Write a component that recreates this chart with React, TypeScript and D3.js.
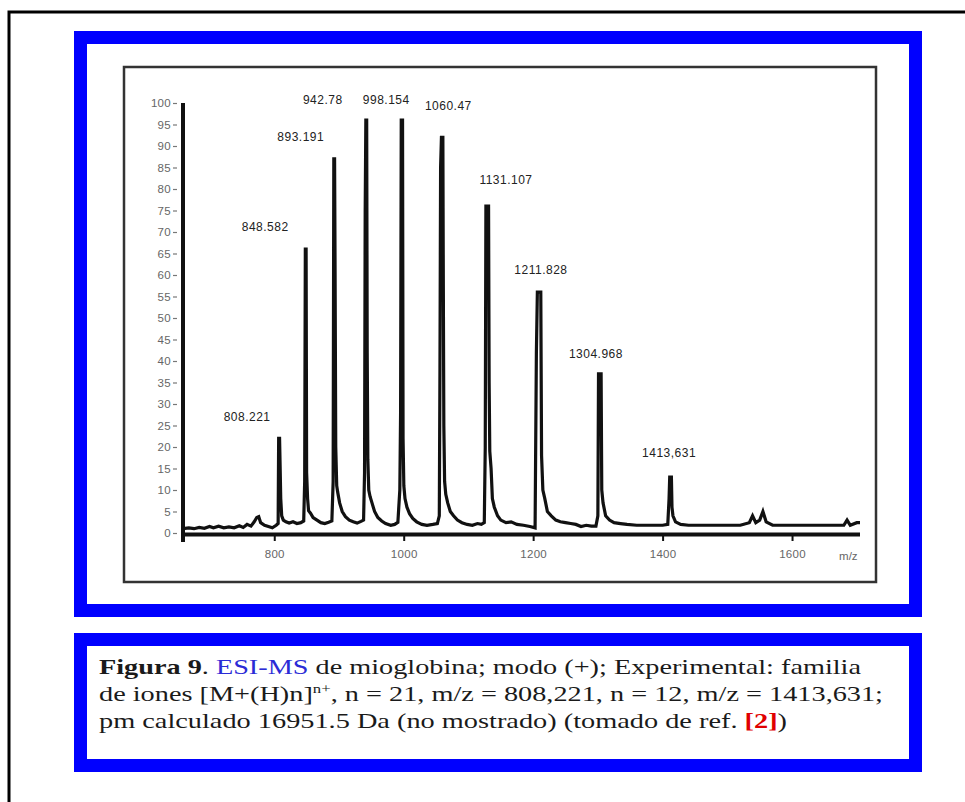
import React, { useEffect, useRef } from "react";
import * as d3 from "d3";

// ESI-MS spectrum of myoglobin: [m/z, relative intensity]
const spectrum: [number, number][] = [
  [659, 1.0], [668, 1.2], [676, 1.0], [684, 1.3], [692, 1.1], [700, 1.5], [706, 1.2],
  [714, 1.6], [722, 1.2], [730, 1.4], [738, 1.2], [746, 1.7], [752, 1.3], [758, 2.0],
  [764, 1.6], [769, 2.6], [773, 3.6], [776, 3.8], [779, 2.4], [785, 1.8], [791, 1.5],
  [797, 1.2], [803, 1.8], [806, 2.2], [806.8, 22], [808.2, 22], [809, 16], [810, 8],
  [811.5, 4], [814, 3], [818, 2.6], [823, 2.3], [829, 2.6], [835, 2.2], [841, 2.4],
  [845.5, 2.8], [847, 12], [848, 66], [849.2, 66], [850, 14], [851.5, 8], [853, 5.2],
  [856, 4.6], [860, 3.6], [866, 3.0], [872, 2.4], [878, 2.2], [884, 2.5], [889, 2.8],
  [891, 12], [892, 87], [893.2, 87], [894, 60], [895, 20], [896.5, 11], [898, 9.5],
  [901, 7], [905, 5], [910, 3.8], [916, 3.0], [922, 2.6], [928, 2.3], [934, 2.7],
  [938, 3.0], [939.5, 14], [940.5, 75], [941.5, 96], [942.8, 96], [943.6, 42],
  [944.6, 17], [946, 10], [948, 8.5], [951, 7], [955, 5], [960, 3.6], [966, 2.8],
  [972, 2.2], [980, 1.8], [986, 2.0], [991, 2.5], [994, 10], [995.2, 28], [996.2, 96],
  [998.2, 96], [999, 22], [1000.2, 11], [1002, 8], [1005, 6], [1009, 4.5], [1014, 3.4],
  [1020, 2.6], [1028, 2.0], [1036, 1.8], [1045, 2.0], [1052, 2.2], [1055, 4],
  [1056, 38], [1057, 85], [1058.3, 92], [1060.5, 92], [1061.2, 58], [1062, 25],
  [1063.2, 12], [1065, 9], [1068, 7], [1072, 5], [1077, 4], [1083, 3], [1090, 2.4],
  [1098, 2.0], [1106, 1.8], [1114, 2.2], [1120, 2.0], [1124.5, 2.4], [1126, 20],
  [1127, 76], [1131.1, 76], [1132, 35], [1133, 19], [1135, 15], [1137, 8], [1140, 6],
  [1145, 4], [1150, 3], [1158, 2.4], [1166, 2.6], [1175, 2.0], [1185, 1.8],
  [1195, 1.5], [1203, 1.2], [1205, 42], [1206.5, 56], [1211.8, 56], [1213, 18],
  [1215, 10], [1218, 8], [1222, 5], [1228, 4], [1235, 3], [1242, 2.6], [1250, 2.4],
  [1258, 2.2], [1266, 2.0], [1274, 1.5], [1282, 1.8], [1290, 1.6], [1297, 1.6],
  [1300, 4], [1301, 37], [1305, 37], [1306, 10], [1308, 7], [1312, 4], [1318, 3],
  [1325, 2.4], [1335, 2.2], [1345, 2.0], [1360, 1.8], [1380, 1.8], [1400, 1.8],
  [1408, 2.0], [1410, 8], [1411, 13], [1413.6, 13], [1414.5, 6], [1416, 4],
  [1420, 2.6], [1428, 2.0], [1440, 1.8], [1460, 1.8], [1480, 1.8], [1500, 1.8],
  [1520, 1.8], [1534, 2.4], [1539, 4], [1544, 2.4], [1550, 3], [1555, 5], [1560, 2.6],
  [1570, 1.8], [1600, 1.8], [1640, 1.8], [1680, 1.8], [1685, 3], [1690, 1.8],
  [1700, 2.4], [1705, 2.4],
];

// peak annotations
const peakLabels = ["808.221", "848.582", "893.191", "942.78", "998.154", "1060.47", "1131.107", "1211.828", "1304.968", "1413,631"];
const labelMz = [758, 786, 841, 875, 973, 1069, 1158, 1212, 1297, 1410];
const labelLevel = [26.7, 71, 92, 100.5, 100.5, 99, 82, 61, 41.5, 18.5];

const xTicks = [800, 1000, 1200, 1400, 1600];
const yTicks = [0, 5, 10, 15, 20, 25, 30, 35, 40, 45, 50, 55, 60, 65, 70, 75, 80, 85, 90, 95, 100];

const App = () => {
  const ref = useRef<SVGSVGElement>(null);

  useEffect(() => {
    const svg = d3.select(ref.current);
    svg.selectAll("*").remove();

    // page frame (only top and left visible)
    svg.append("path").attr("d", "M9,802V12H965")
      .attr("fill", "none").attr("stroke", "#000").attr("stroke-width", 3);

    // blue boxes
    svg.append("rect").attr("x", 80.5).attr("y", 37.5).attr("width", 835).attr("height", 573)
      .attr("fill", "#fff").attr("stroke", "#0000ff").attr("stroke-width", 13);
    svg.append("rect").attr("x", 80.5).attr("y", 639.5).attr("width", 835).attr("height", 126)
      .attr("fill", "#fff").attr("stroke", "#0000ff").attr("stroke-width", 13);

    // chart frame
    svg.append("rect").attr("x", 124).attr("y", 67).attr("width", 752).attr("height", 515)
      .attr("fill", "#fff").attr("stroke", "#333").attr("stroke-width", 2.5);

    const x = d3.scaleLinear().domain([659, 1705]).range([183, 860]);
    const y = d3.scaleLinear().domain([0, 100]).range([533, 103]);

    // y axis
    const yAxis = d3.axisLeft(y).tickValues(yTicks).tickSize(4).tickPadding(2);
    const gy = svg.append("g").attr("transform", "translate(177,0)").call(yAxis);
    gy.select(".domain").remove();
    gy.selectAll(".tick line").attr("stroke", "#777").attr("stroke-width", 1.2);
    gy.selectAll(".tick text")
      .attr("fill", "#666").attr("font-size", 11.5).attr("letter-spacing", 0.3)
      .attr("font-family", "Liberation Sans, Arial, sans-serif");

    // x axis
    const xAxis = d3.axisBottom(x).tickValues(xTicks).tickFormat(d3.format("d"))
      .tickSize(7).tickPadding(9);
    const gx = svg.append("g").attr("transform", "translate(0,534)").call(xAxis);
    gx.select(".domain").remove();
    gx.selectAll(".tick line").attr("stroke", "#111").attr("stroke-width", 2);
    gx.selectAll(".tick text")
      .attr("fill", "#666").attr("font-size", 11.5).attr("letter-spacing", 0.3)
      .attr("font-family", "Liberation Sans, Arial, sans-serif");

    svg.append("line")
      .attr("x1", x(659) - 1).attr("x2", x(1705)).attr("y1", 534.5).attr("y2", 534.5)
      .attr("stroke", "#111").attr("stroke-width", 4);
    svg.append("line")
      .attr("x1", x(659)).attr("x2", x(659)).attr("y1", y(100)).attr("y2", 542)
      .attr("stroke", "#111").attr("stroke-width", 4);

    svg.append("text").attr("x", x(1687)).attr("y", 557)
      .attr("text-anchor", "middle").attr("dominant-baseline", "middle")
      .attr("fill", "#666").attr("font-size", 11.5)
      .attr("font-family", "Liberation Sans, Arial, sans-serif").text("m/z");

    // spectrum trace
    const line = d3.line<[number, number]>().x(d => x(d[0])).y(d => y(d[1]));
    svg.append("path").datum(spectrum).attr("d", line)
      .attr("fill", "none").attr("stroke", "#111").attr("stroke-width", 3.2)
      .attr("stroke-linejoin", "miter");

    // peak labels
    svg.selectAll("text.peak").data(peakLabels).enter().append("text")
      .attr("class", "peak")
      .attr("x", (d, i) => x(labelMz[i])).attr("y", (d, i) => y(labelLevel[i]))
      .attr("text-anchor", "middle").attr("dominant-baseline", "middle")
      .attr("fill", "#222").attr("font-size", 12).attr("letter-spacing", 0.5)
      .attr("font-family", "Liberation Sans, Arial, sans-serif")
      .text(d => d);

    // caption
    const cap = svg.append("g").attr("font-family", "Liberation Serif, Times New Roman, serif")
      .attr("font-size", 22).attr("fill", "#1a1a1a");

    const l1 = cap.append("text").attr("x", 99).attr("y", 674)
      .attr("textLength", 762).attr("lengthAdjust", "spacingAndGlyphs");
    l1.append("tspan").attr("font-weight", "bold").text("Figura 9");
    l1.append("tspan").text(". ");
    l1.append("tspan").attr("fill", "#2b2bd6").text("ESI-MS");
    l1.append("tspan").text(" de mioglobina; modo (+); Experimental: familia");

    const l2 = cap.append("text").attr("x", 99).attr("y", 701)
      .attr("textLength", 784).attr("lengthAdjust", "spacingAndGlyphs");
    l2.append("tspan").text("de iones [M+(H)n]");
    l2.append("tspan").attr("font-size", 13).attr("dy", -8).text("n+");
    l2.append("tspan").attr("dy", 8).text(", n = 21, m/z = 808,221, n = 12, m/z = 1413,631;");

    const l3 = cap.append("text").attr("x", 99).attr("y", 728)
      .attr("textLength", 688).attr("lengthAdjust", "spacingAndGlyphs");
    l3.append("tspan").text("pm calculado 16951.5 Da (no mostrado) (tomado de ref. ");
    l3.append("tspan").attr("fill", "#e00000").attr("font-weight", "bold").text("[2]");
    l3.append("tspan").text(")");
  }, []);

  return (
    <svg ref={ref} width={965} height={802}
      style={{ position: "absolute", left: 0, top: 0, background: "#fff" }} />
  );
};

export default App;
